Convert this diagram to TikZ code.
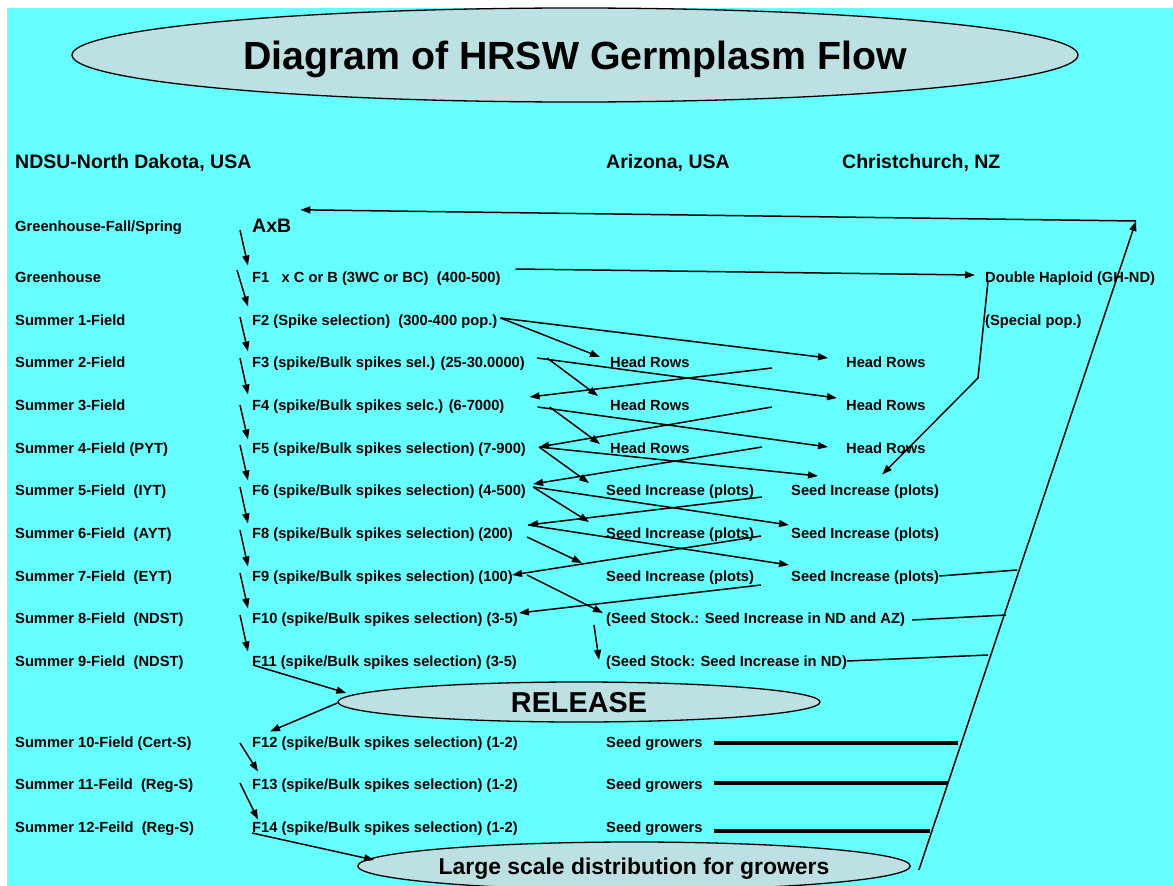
\documentclass[tikz,border=0pt]{standalone}
\usepackage{fontspec}
\setmainfont{Liberation Sans}
\usetikzlibrary{positioning,calc,arrows.meta,shapes.geometric}
\definecolor{slidecyan}{HTML}{66FFFF}
\definecolor{ovalfill}{HTML}{BDE0E2}

\begin{document}
\begin{tikzpicture}[x=1pt, y=-1pt,
  lbl/.style={anchor=west, inner sep=0pt, text height=10.5pt, text depth=0pt,
              font=\fontsize{14.7}{16}\selectfont\bfseries},
  hdr/.style={anchor=west, inner sep=0pt, text height=14pt, text depth=0pt,
              font=\fontsize{19.5}{22}\selectfont\bfseries},
  oval/.style={ellipse, draw=black, line width=1.3pt, fill=ovalfill,
               inner sep=0pt},
  flow/.style={line width=1.5pt, -{Triangle[length=10pt,width=7pt]}},
  link/.style={line width=1.5pt},
  heavy/.style={line width=3.2pt},
]

\useasboundingbox (0,0) rectangle (1173,886);
\fill[slidecyan] (7,8) rectangle (1173,886);

% Title
\node[oval, minimum width=1006pt, minimum height=94pt, text height=28pt,
      text depth=0pt, font=\fontsize{39.3}{41}\selectfont\bfseries]
  (title) at (575,55) {Diagram of HRSW Germplasm Flow};

% Column heads
\node[hdr] (ndsu) at (15,161) {NDSU-North Dakota, USA};
\node[hdr] (az) at (606,161) {Arizona, USA};
\node[hdr] (nz) at (842,161) {Christchurch, NZ};

% Season labels
\node[lbl] (s0) at (15,226) {Greenhouse-Fall/Spring};
\node[lbl] (s1) at (15,277) {Greenhouse};
\node[lbl] (s2) at (15,320) {Summer 1-Field};
\node[lbl] (s3) at (15,362) {Summer 2-Field};
\node[lbl] (s4) at (15,405) {Summer 3-Field};
\node[lbl] (s5) at (15,448) {Summer 4-Field (PYT)};
\node[lbl] (s6) at (15,490) {Summer 5-Field\ \ (IYT)};
\node[lbl] (s7) at (15,533) {Summer 6-Field\ \ (AYT)};
\node[lbl] (s8) at (15,576) {Summer 7-Field\ \ (EYT)};
\node[lbl] (s9) at (15,618) {Summer 8-Field\ \ (NDST)};
\node[lbl] (s10) at (15,661) {Summer 9-Field\ \ (NDST)};
\node[lbl] (s11) at (15,742) {Summer 10-Field (Cert-S)};
\node[lbl] (s12) at (15,784) {Summer 11-Feild\ \ (Reg-S)};
\node[lbl] (s13) at (15,827) {Summer 12-Feild\ \ (Reg-S)};

% NDSU generations
\node[hdr] (axb) at (252,225) {AxB};
\node[lbl] (f1) at (252,277) {F1\ \ \ x C or B (3WC or BC)\ \ (400-500)};
\node[lbl] (f2) at (252,320) {F2 (Spike selection)\ \ (300-400 pop.)};
\node[lbl] (f3) at (252,362) {F3 (spike/Bulk spikes sel.) (25-30.0000)};
\node[lbl] (f4) at (252,405) {F4 (spike/Bulk spikes selc.) (6-7000)};
\node[lbl] (f5) at (252,448) {F5 (spike/Bulk spikes selection) (7-900)};
\node[lbl] (f6) at (252,490) {F6 (spike/Bulk spikes selection) (4-500)};
\node[lbl] (f8) at (252,533) {F8 (spike/Bulk spikes selection) (200)};
\node[lbl] (f9) at (252,576) {F9 (spike/Bulk spikes selection) (100)};
\node[lbl] (f10) at (252,618) {F10 (spike/Bulk spikes selection) (3-5)};
\node[lbl] (f11) at (252,661) {F11 (spike/Bulk spikes selection) (3-5)};
\node[lbl] (f12) at (252,742) {F12 (spike/Bulk spikes selection) (1-2)};
\node[lbl] (f13) at (252,784) {F13 (spike/Bulk spikes selection) (1-2)};
\node[lbl] (f14) at (252,827) {F14 (spike/Bulk spikes selection) (1-2)};

% Arizona
\node[lbl] (hra1) at (610,362) {Head Rows};
\node[lbl] (hra2) at (610,405) {Head Rows};
\node[lbl] (hra3) at (610,448) {Head Rows};
\node[lbl] (sia1) at (606,490) {Seed Increase (plots)};
\node[lbl] (sia2) at (606,533) {Seed Increase (plots)};
\node[lbl] (sia3) at (606,576) {Seed Increase (plots)};
\node[lbl] (stock1) at (606,618) {(Seed Stock.: Seed Increase in ND and AZ)};
\node[lbl] (stock2) at (606,661) {(Seed Stock: Seed Increase in ND)};
\node[lbl] (grow1) at (606,742) {Seed growers};
\node[lbl] (grow2) at (606,784) {Seed growers};
\node[lbl] (grow3) at (606,827) {Seed growers};

% Christchurch
\node[lbl] (dh) at (985,277) {Double Haploid (GH-ND)};
\node[lbl] (spec) at (985,320) {(Special pop.)};
\node[lbl] (hrn1) at (846,362) {Head Rows};
\node[lbl] (hrn2) at (846,405) {Head Rows};
\node[lbl] (hrn3) at (846,448) {Head Rows};
\node[lbl] (sin1) at (791,490) {Seed Increase (plots)};
\node[lbl] (sin2) at (791,533) {Seed Increase (plots)};
\node[lbl] (sin3) at (791,576) {Seed Increase (plots)};

% Release and distribution
\node[oval, minimum width=482pt, minimum height=40pt, text height=20.5pt,
      text depth=0pt, font=\fontsize{28.8}{30}\selectfont\bfseries]
  (release) at (579,702) {RELEASE};
\node[oval, minimum width=552pt, minimum height=48pt, text height=16.3pt,
      text depth=0pt, font=\fontsize{22.9}{24}\selectfont\bfseries]
  (large) at (634,866) {Large scale distribution for growers};

% Free ends on the right
\coordinate (bend) at (978,378);
\coordinate (corner) at (1136,221);
\coordinate (r1) at (1017,570);
\coordinate (r2) at (1006,615);
\coordinate (r3) at (988,655);
\coordinate (r4) at (958,743);
\coordinate (r5) at (948,783);
\coordinate (r6) at (930,831);

% Generation spine
\draw[flow] ([xshift=-12pt,yshift=-5pt]axb.west) -- ([xshift=-4pt,yshift=6pt]f1.north west);
\draw[flow] ([xshift=-15pt,yshift=7pt]f1.west) -- ([xshift=-4pt,yshift=8pt]f2.north west);
\draw[flow] ([xshift=-12pt,yshift=3pt]f2.west) -- ([xshift=-4pt,yshift=5pt]f3.north west);
\draw[flow] ([xshift=-12pt,yshift=4pt]f3.west) -- ([xshift=-4pt,yshift=5pt]f4.north west);
\draw[flow] ([xshift=-12pt,yshift=0pt]f4.west) -- ([xshift=-4pt,yshift=3pt]f5.north west);
\draw[flow] ([xshift=-12pt,yshift=3pt]f5.west) -- ([xshift=-4pt,yshift=4pt]f6.north west);
\draw[flow] ([xshift=-12pt,yshift=3pt]f6.west) -- ([xshift=-4pt,yshift=4pt]f8.north west);
\draw[flow] ([xshift=-12pt,yshift=3pt]f8.west) -- ([xshift=-4pt,yshift=4pt]f9.north west);
\draw[flow] ([xshift=-12pt,yshift=3pt]f9.west) -- ([xshift=-4pt,yshift=4pt]f10.north west);
\draw[flow] ([xshift=-12pt,yshift=3pt]f10.west) -- ([xshift=-4pt,yshift=4pt]f11.north west);
\draw[flow] ([xshift=1pt,yshift=-4pt]f11.west) -- ([xshift=9pt,yshift=9pt]release.west);
\draw[flow] ([yshift=-1pt]release.west) -- ([xshift=18pt,yshift=5pt]f12.north west);
\draw[flow] ([xshift=-12pt,yshift=-1pt]f12.west) -- ([xshift=6pt,yshift=7pt]f13.north west);
\draw[flow] ([xshift=-12pt,yshift=1pt]f13.west) -- ([xshift=6pt,yshift=2pt]f14.north west);
\draw[flow] ([yshift=-6pt]f14.west) -- ([xshift=17pt,yshift=6pt]large.west);

% Out to Head Rows
\draw[flow] ([xshift=3pt,yshift=2pt]f2.east) -- ([xshift=-10pt,yshift=5pt]hra1.west);
\draw[flow] ([xshift=3pt,yshift=2pt]f2.east) -- ([xshift=-18pt,yshift=4pt]hrn1.west);
\draw[flow] ([xshift=22pt,yshift=4pt]f3.east) -- ([xshift=-12pt,yshift=9pt]hra2.west);
\draw[flow] ([xshift=12pt,yshift=4pt]f3.east) -- ([xshift=-9pt,yshift=7pt]hrn2.west);
\draw[flow] ([xshift=45pt,yshift=-2pt]f4.east) -- ([xshift=-10pt,yshift=4pt]hra3.west);
\draw[flow] ([xshift=33pt,yshift=-2pt]f4.east) -- ([xshift=-18pt,yshift=1pt]hrn3.west);

% Out to Seed Increase
\draw[flow] ([xshift=13pt,yshift=1pt]f5.east) -- ([xshift=-17pt,yshift=7pt]sia1.west);
\draw[flow] ([xshift=13pt,yshift=1pt]f5.east) -- ([xshift=27pt,yshift=14pt]sin1.west);
\draw[flow] ([xshift=7pt,yshift=3pt]f6.east) -- ([xshift=-17pt,yshift=11pt]sia2.west);
\draw[flow] ([xshift=7pt,yshift=3pt]f6.east) -- ([xshift=-2pt,yshift=8pt]sin2.west);
\draw[flow] ([xshift=15pt,yshift=8pt]f8.east) -- ([xshift=-2pt,yshift=11pt]sin3.west);
\draw[flow] ([xshift=14pt,yshift=-4pt]f8.east) -- ([xshift=-24pt,yshift=13pt]sia3.west);
\draw[flow] ([xshift=14pt,yshift=1pt]f9.east) -- ([xshift=-3pt,yshift=5pt]stock1.west);
\draw[flow] ([xshift=-12pt,yshift=-7pt]stock1.west) -- ([xshift=-7pt,yshift=1pt]stock2.west);

% Back from Christchurch
\draw[flow] ([xshift=-74pt,yshift=-6pt]hrn1.west) -- ([xshift=25pt,yshift=8pt]f4.east);
\draw[flow] ([xshift=-74pt,yshift=-2pt]hrn2.west) -- ([xshift=13pt,yshift=1pt]f5.east);
\draw[flow] ([xshift=-84pt,yshift=1pt]hrn3.west) -- ([xshift=7pt,yshift=6pt]f6.east);
\draw[flow] ([xshift=-29pt,yshift=-7pt]sin1.west) -- ([xshift=15pt,yshift=8pt]f8.east);
\draw[flow] ([xshift=-30pt,yshift=-3pt]sin2.west) -- ([xshift=-1pt,yshift=1pt]f9.east);
\draw[flow] ([xshift=-30pt,yshift=-9pt]sin3.west) -- ([xshift=1pt,yshift=5pt]f10.east);

% Double haploid path
\draw[flow] ([xshift=15pt,yshift=8pt]f1.east) -- ([xshift=-10pt,yshift=2pt]dh.west);
\draw[flow] ([xshift=3pt,yshift=-4pt]dh.west) -- (bend) -- ([xshift=17pt,yshift=10pt]sin1.north);

% Return lines on the right
\draw[link] (sin3.east) -- (r1);
\draw[link] ([xshift=7pt,yshift=-2pt]stock1.east) -- (r2);
\draw[link] (stock2.east) -- (r3);
\draw[heavy] ([xshift=11pt,yshift=-1pt]grow1.east) -- (r4);
\draw[heavy] ([xshift=11pt,yshift=1pt]grow2.east) -- (r5);
\draw[heavy] ([xshift=11pt,yshift=-4pt]grow3.east) -- (r6);
\draw[flow] ([xshift=8pt,yshift=-4pt]large.east) -- (corner);
\draw[flow] (corner) -- ([xshift=9pt,yshift=8pt]axb.north east);

\end{tikzpicture}
\end{document}
